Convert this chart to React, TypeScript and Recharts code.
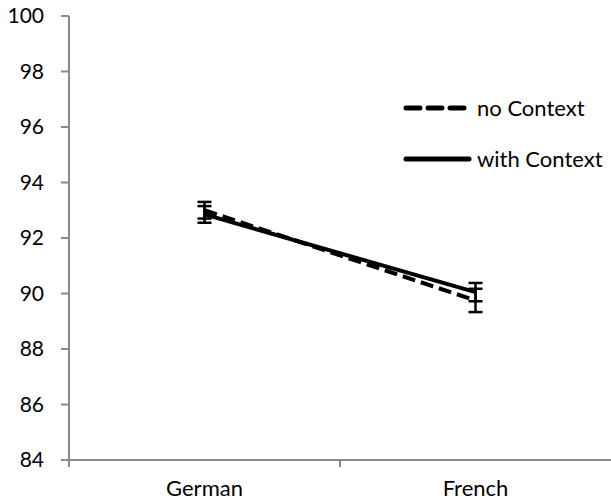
import { LineChart, Line, XAxis, YAxis, ErrorBar } from 'recharts';

// values
const languages = ['German', 'French'];
const noContext = [93.0, 89.75];
const noContextErr = [0.3, 0.42];
const withContext = [92.85, 90.05];
const withContextErr = [0.3, 0.33];
const yTicks = [84, 86, 88, 90, 92, 94, 96, 98, 100];

const FONT = 'Lato, "Open Sans", sans-serif';
const AXIS = '#8a8a8a';

const data = languages.map((lang, i) => ({
  pos: i + 0.5,
  lang,
  noCtx: noContext[i],
  noCtxErr: noContextErr[i],
  withCtx: withContext[i],
  withCtxErr: withContextErr[i],
}));

// ticks at band edges (0,1) carry the tick marks, centres carry the labels
const xTicks = [0, 0.5, 1, 1.5];

function XTick(props: any) {
  const { x, y, payload } = props;
  const v = payload.value as number;
  if (Number.isInteger(v)) {
    return <line x1={x} x2={x} y1={y} y2={y + 7} stroke={AXIS} strokeWidth={2} />;
  }
  return (
    <text x={x} y={y + 36} textAnchor="middle" fill="#000" fontSize={22} fontFamily={FONT}>
      {languages[Math.floor(v)]}
    </text>
  );
}

const legendItems = [
  { label: 'no Context', dash: true },
  { label: 'with Context', dash: false },
];

export default function App() {
  return (
    <div style={{ position: 'absolute', left: 0, top: 0, width: 611, height: 502, background: '#fff' }}>
      <LineChart width={611} height={502} data={data} margin={{ top: 16, right: 0, bottom: 0, left: 0 }}>
        <XAxis
          dataKey="pos"
          type="number"
          domain={[0, 2]}
          ticks={xTicks}
          interval={0}
          height={42}
          tickSize={0}
          tickMargin={0}
          tickLine={false}
          stroke={AXIS}
          strokeWidth={2}
          tick={<XTick />}
        />
        <YAxis
          domain={[84, 100]}
          ticks={yTicks}
          interval={0}
          width={69}
          tickSize={8}
          tickMargin={17}
          stroke={AXIS}
          strokeWidth={2}
          tick={{ fill: '#000', fontSize: 21, fontFamily: FONT }}
        />
        <Line
          dataKey="noCtx"
          stroke="#000"
          strokeWidth={4}
          strokeDasharray="13 6"
          dot={false}
          isAnimationActive={false}
        >
          <ErrorBar dataKey="noCtxErr" width={7} stroke="#000" strokeWidth={2.5} direction="y" isAnimationActive={false} />
        </Line>
        <Line
          dataKey="withCtx"
          stroke="#000"
          strokeWidth={4}
          dot={false}
          isAnimationActive={false}
        >
          <ErrorBar dataKey="withCtxErr" width={7} stroke="#000" strokeWidth={2.5} direction="y" isAnimationActive={false} />
        </Line>
      </LineChart>
      <div style={{ position: 'absolute', left: 403, top: 82 }}>
        {legendItems.map((it) => (
          <div key={it.label} style={{ display: 'flex', alignItems: 'center', height: 51 }}>
            <svg width={70} height={10}>
              <line
                x1={3}
                x2={66}
                y1={5}
                y2={5}
                stroke="#000"
                strokeWidth={5}
                strokeLinecap="round"
                strokeDasharray={it.dash ? '14 8' : undefined}
              />
            </svg>
            <span style={{ fontFamily: FONT, fontSize: 22, color: '#000', marginLeft: 4 }}>{it.label}</span>
          </div>
        ))}
      </div>
    </div>
  );
}
